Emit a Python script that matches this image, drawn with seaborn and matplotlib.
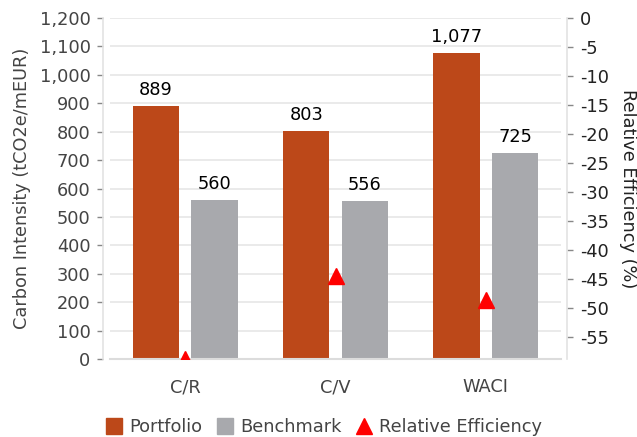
import numpy as np
import pandas as pd
import matplotlib
matplotlib.use("Agg")
import matplotlib.pyplot as plt
from matplotlib.lines import Line2D
import seaborn as sns

# Carbon metrics: portfolio vs benchmark
categories = ["C/R", "C/V", "WACI"]
portfolio = [889, 803, 1077]
benchmark = [560, 556, 725]
relative_efficiency = [-58.75, -44.42, -48.55]
left_ticks = list(range(0, 1201, 100))
right_ticks = list(range(0, -56, -5))

sns.set_theme(style="white")
plt.rcParams["font.family"] = "sans-serif"
plt.rcParams["font.sans-serif"] = ["DejaVu Sans"]
plt.rcParams["axes.unicode_minus"] = False

FS = 12.8
C_PORT = "#BC4819"
C_BENCH = "#A8A9AD"
C_REL = "#FF0000"
TXT = "#444444"

df = pd.DataFrame({
    "Metric": categories * 2,
    "Series": ["Portfolio"] * len(categories) + ["Benchmark"] * len(categories),
    "Value": portfolio + benchmark,
})

fig = plt.figure(figsize=(6.37, 4.37), dpi=100)
W, H = 637, 437
ax = fig.add_axes([110 / W, (H - 359) / H, (561 - 110) / W, (359 - 18) / H])

sns.barplot(data=df, x="Metric", y="Value", hue="Series",
            palette=[C_PORT, C_BENCH], width=0.78, gap=0.21,
            saturation=1, legend=False, ax=ax, zorder=2, linewidth=0)

for cont in ax.containers:
    ax.bar_label(cont, fmt="{:,.0f}", padding=5, fontsize=FS, color="black")

ax.set_xlim(-0.5, len(categories) - 0.5)
ax.set_ylim(0, 1200)
ax.set_yticks(left_ticks)
ax.yaxis.set_major_formatter(matplotlib.ticker.StrMethodFormatter("{x:,.0f}"))
ax.grid(axis="y", color="#E6E6E6", linewidth=1.2, zorder=0)
ax.set_axisbelow(True)
ax.set_xlabel("")
ax.set_ylabel("Carbon Intensity (tCO2e/mEUR)", fontsize=FS, color=TXT, labelpad=6)
ax.tick_params(axis="y", labelsize=FS, labelcolor=TXT, length=4, width=1,
               color="#888888", pad=5, left=True)
ax.tick_params(axis="x", labelsize=FS, labelcolor=TXT, length=0, pad=14)

for s in ["top", "right"]:
    ax.spines[s].set_visible(False)
ax.spines["left"].set_position(("outward", 5))
ax.spines["left"].set_color("#E3E3E3")
ax.spines["left"].set_linewidth(1.2)
ax.spines["bottom"].set_color("#DCDCDC")
ax.spines["bottom"].set_linewidth(1.5)

ax2 = ax.twinx()
ax2.plot(np.arange(len(categories)), relative_efficiency, linestyle="none",
         marker="^", markersize=11, color=C_REL, zorder=3)
ax2.set_ylim(min(relative_efficiency), 0)
ax2.set_yticks(right_ticks)
ax2.grid(False)
ax2.set_ylabel("Relative Efficiency (%)", fontsize=FS, color="#222222",
               rotation=270, labelpad=20)
ax2.tick_params(axis="y", labelsize=FS, labelcolor="#222222", length=4, width=1,
                color="#888888", pad=5, right=True)
for s in ["top", "left", "bottom"]:
    ax2.spines[s].set_visible(False)
ax2.spines["right"].set_position(("outward", 4.5))
ax2.spines["right"].set_color("#E3E3E3")
ax2.spines["right"].set_linewidth(1.2)

handles = [
    Line2D([], [], marker="s", linestyle="none", markersize=11, color=C_PORT),
    Line2D([], [], marker="s", linestyle="none", markersize=11, color=C_BENCH),
    Line2D([], [], marker="^", linestyle="none", markersize=11, color=C_REL),
]
fig.legend(handles, ["Portfolio", "Benchmark", "Relative Efficiency"],
           loc="center", bbox_to_anchor=(324 / W, (H - 427) / H), ncol=3,
           frameon=False, fontsize=FS, labelcolor=TXT, handlelength=0.9,
           handletextpad=0.4, columnspacing=0.8)

fig.savefig("out.png", dpi=100)
